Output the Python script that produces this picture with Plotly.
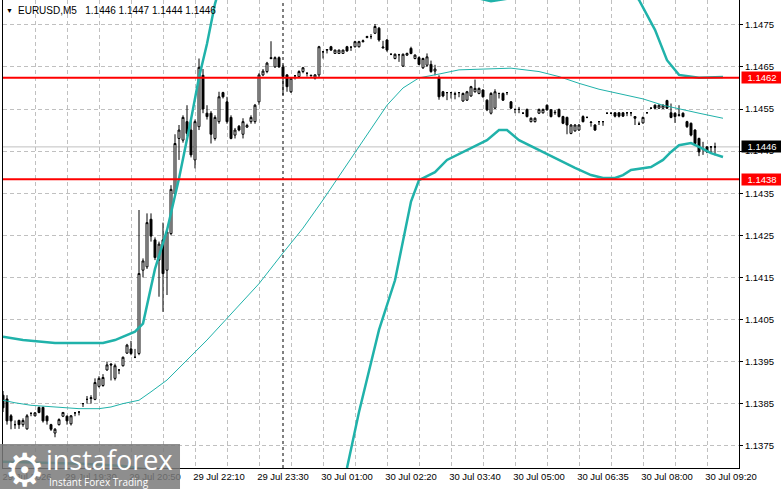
import plotly.graph_objects as go

# EURUSD M5 candles, one entry per bar (bar index = position on the chart)
opens = [
    1.13870, 1.13861, 1.13821, 1.13800, 1.13810, 1.13800, 1.13790, 1.13827, 1.13821, 1.13841,
    1.13841, 1.13820, 1.13800, 1.13780, 1.13800, 1.13820, 1.13820, 1.13802, 1.13828, 1.13830,
    1.13850, 1.13860, 1.13862, 1.13860, 1.13891, 1.13893, 1.13930, 1.13944, 1.13910, 1.13930,
    1.13940, 1.13970, 1.13980, 1.13960, 1.13969, 1.14167, 1.14175, 1.14288, 1.14239, 1.14191,
    1.14239, 1.14167, 1.14254, 1.14349, 1.14480, 1.14476, 1.14520, 1.14500, 1.14429, 1.14508,
    1.14630, 1.14540, 1.14540, 1.14480, 1.14520, 1.14589, 1.14567, 1.14530, 1.14488, 1.14509,
    1.14490, 1.14507, 1.14520, 1.14520, 1.14567, 1.14631, 1.14639, 1.14672, 1.14650, 1.14672,
    1.14650, 1.14631, 1.14591, 1.14629, 1.14627, 1.14639, 1.14635, 1.14629, 1.14623, 1.14631,
    1.14686, 1.14690, 1.14698, 1.14682, 1.14682, 1.14682, 1.14698, 1.14697, 1.14698, 1.14698,
    1.14710, 1.14720, 1.14722, 1.14730, 1.14742, 1.14695, 1.14714, 1.14680, 1.14670, 1.14679,
    1.14652, 1.14678, 1.14694, 1.14670, 1.14672, 1.14648, 1.14654, 1.14656, 1.14640, 1.14625,
    1.14591, 1.14589, 1.14589, 1.14585, 1.14589, 1.14569, 1.14571, 1.14581, 1.14591, 1.14587,
    1.14595, 1.14571, 1.14540, 1.14552, 1.14587, 1.14587, 1.14589, 1.14567, 1.14549, 1.14549,
    1.14540, 1.14549, 1.14520, 1.14520, 1.14540, 1.14541, 1.14559, 1.14548, 1.14541, 1.14549,
    1.14532, 1.14530, 1.14492, 1.14498, 1.14500, 1.14532, 1.14530, 1.14518, 1.14512, 1.14520,
    1.14520, 1.14540, 1.14540, 1.14541, 1.14541, 1.14541, 1.14541, 1.14541, 1.14532, 1.14514,
    1.14517, 1.14541, 1.14552, 1.14559, 1.14552, 1.14552, 1.14570, 1.14541, 1.14540, 1.14535,
    1.14540, 1.14520, 1.14516, 1.14500, 1.14480, 1.14455, 1.14460, 1.14460, 1.14460,
]
highs = [
    1.13880, 1.13870, 1.13825, 1.13810, 1.13812, 1.13815, 1.13825, 1.13828, 1.13830, 1.13843,
    1.13843, 1.13822, 1.13802, 1.13792, 1.13815, 1.13830, 1.13822, 1.13823, 1.13829, 1.13831,
    1.13851, 1.13868, 1.13870, 1.13910, 1.13915, 1.13920, 1.13950, 1.13946, 1.13945, 1.13931,
    1.13962, 1.13992, 1.13999, 1.13980, 1.14310, 1.14195, 1.14302, 1.14302, 1.14245, 1.14235,
    1.14280, 1.14262, 1.14369, 1.14490, 1.14512, 1.14535, 1.14559, 1.14525, 1.14525, 1.14670,
    1.14645, 1.14559, 1.14545, 1.14535, 1.14591, 1.14591, 1.14579, 1.14535, 1.14505, 1.14512,
    1.14528, 1.14515, 1.14535, 1.14562, 1.14635, 1.14645, 1.14662, 1.14711, 1.14675, 1.14675,
    1.14655, 1.14633, 1.14625, 1.14630, 1.14642, 1.14650, 1.14636, 1.14631, 1.14633, 1.14700,
    1.14688, 1.14692, 1.14700, 1.14691, 1.14691, 1.14691, 1.14700, 1.14698, 1.14712, 1.14712,
    1.14715, 1.14724, 1.14728, 1.14752, 1.14745, 1.14712, 1.14716, 1.14682, 1.14682, 1.14681,
    1.14682, 1.14684, 1.14698, 1.14680, 1.14675, 1.14672, 1.14682, 1.14665, 1.14655, 1.14630,
    1.14593, 1.14590, 1.14590, 1.14591, 1.14590, 1.14589, 1.14593, 1.14605, 1.14620, 1.14601,
    1.14597, 1.14573, 1.14590, 1.14597, 1.14588, 1.14589, 1.14590, 1.14569, 1.14550, 1.14555,
    1.14542, 1.14551, 1.14530, 1.14530, 1.14551, 1.14551, 1.14561, 1.14550, 1.14548, 1.14551,
    1.14534, 1.14532, 1.14514, 1.14514, 1.14514, 1.14535, 1.14532, 1.14520, 1.14514, 1.14521,
    1.14521, 1.14541, 1.14541, 1.14542, 1.14542, 1.14542, 1.14542, 1.14542, 1.14533, 1.14520,
    1.14532, 1.14542, 1.14553, 1.14561, 1.14561, 1.14561, 1.14572, 1.14563, 1.14542, 1.14559,
    1.14542, 1.14522, 1.14518, 1.14502, 1.14482, 1.14472, 1.14462, 1.14461, 1.14470,
]
lows = [
    1.13830, 1.13800, 1.13789, 1.13790, 1.13790, 1.13795, 1.13788, 1.13820, 1.13820, 1.13827,
    1.13805, 1.13800, 1.13785, 1.13770, 1.13798, 1.13818, 1.13800, 1.13798, 1.13820, 1.13822,
    1.13842, 1.13850, 1.13850, 1.13858, 1.13888, 1.13890, 1.13928, 1.13905, 1.13905, 1.13920,
    1.13938, 1.13968, 1.13965, 1.13958, 1.13965, 1.14150, 1.14170, 1.14235, 1.14191, 1.14104,
    1.14068, 1.14108, 1.14250, 1.14345, 1.14429, 1.14470, 1.14485, 1.14435, 1.14409, 1.14500,
    1.14540, 1.14525, 1.14468, 1.14475, 1.14515, 1.14575, 1.14515, 1.14478, 1.14480, 1.14497,
    1.14480, 1.14505, 1.14515, 1.14515, 1.14560, 1.14628, 1.14635, 1.14668, 1.14648, 1.14648,
    1.14583, 1.14591, 1.14588, 1.14620, 1.14625, 1.14635, 1.14627, 1.14627, 1.14620, 1.14625,
    1.14670, 1.14682, 1.14688, 1.14681, 1.14681, 1.14681, 1.14686, 1.14688, 1.14696, 1.14696,
    1.14708, 1.14718, 1.14716, 1.14728, 1.14710, 1.14694, 1.14686, 1.14678, 1.14668, 1.14662,
    1.14650, 1.14676, 1.14680, 1.14668, 1.14654, 1.14645, 1.14650, 1.14636, 1.14630, 1.14572,
    1.14578, 1.14571, 1.14575, 1.14573, 1.14578, 1.14567, 1.14569, 1.14579, 1.14589, 1.14585,
    1.14577, 1.14545, 1.14537, 1.14550, 1.14575, 1.14569, 1.14583, 1.14550, 1.14540, 1.14540,
    1.14538, 1.14530, 1.14518, 1.14518, 1.14538, 1.14539, 1.14546, 1.14530, 1.14536, 1.14530,
    1.14514, 1.14490, 1.14490, 1.14496, 1.14498, 1.14518, 1.14528, 1.14508, 1.14498, 1.14512,
    1.14510, 1.14538, 1.14538, 1.14530, 1.14530, 1.14531, 1.14533, 1.14533, 1.14512, 1.14512,
    1.14515, 1.14540, 1.14550, 1.14550, 1.14550, 1.14550, 1.14550, 1.14528, 1.14517, 1.14532,
    1.14530, 1.14505, 1.14485, 1.14465, 1.14438, 1.14441, 1.14445, 1.14445, 1.14440,
]
closes = [
    1.13840, 1.13809, 1.13809, 1.13800, 1.13800, 1.13810, 1.13821, 1.13827, 1.13828, 1.13829,
    1.13809, 1.13809, 1.13789, 1.13789, 1.13812, 1.13829, 1.13809, 1.13821, 1.13828, 1.13830,
    1.13850, 1.13860, 1.13864, 1.13900, 1.13910, 1.13912, 1.13942, 1.13942, 1.13940, 1.13930,
    1.13960, 1.13989, 1.13969, 1.13960, 1.14159, 1.14189, 1.14280, 1.14248, 1.14197, 1.14229,
    1.14159, 1.14258, 1.14359, 1.14468, 1.14500, 1.14530, 1.14492, 1.14441, 1.14520, 1.14649,
    1.14550, 1.14532, 1.14490, 1.14530, 1.14579, 1.14579, 1.14520, 1.14480, 1.14500, 1.14500,
    1.14520, 1.14511, 1.14530, 1.14559, 1.14631, 1.14640, 1.14659, 1.14670, 1.14672, 1.14650,
    1.14627, 1.14603, 1.14623, 1.14629, 1.14639, 1.14648, 1.14635, 1.14630, 1.14631, 1.14698,
    1.14686, 1.14691, 1.14690, 1.14690, 1.14690, 1.14690, 1.14688, 1.14697, 1.14710, 1.14710,
    1.14712, 1.14722, 1.14722, 1.14746, 1.14714, 1.14697, 1.14690, 1.14680, 1.14680, 1.14679,
    1.14680, 1.14682, 1.14682, 1.14678, 1.14656, 1.14670, 1.14674, 1.14639, 1.14645, 1.14579,
    1.14581, 1.14589, 1.14589, 1.14586, 1.14589, 1.14587, 1.14591, 1.14603, 1.14599, 1.14599,
    1.14579, 1.14548, 1.14587, 1.14591, 1.14587, 1.14571, 1.14589, 1.14552, 1.14549, 1.14549,
    1.14540, 1.14532, 1.14528, 1.14528, 1.14549, 1.14549, 1.14548, 1.14532, 1.14542, 1.14532,
    1.14516, 1.14512, 1.14512, 1.14512, 1.14512, 1.14520, 1.14530, 1.14519, 1.14500, 1.14520,
    1.14520, 1.14540, 1.14540, 1.14533, 1.14533, 1.14533, 1.14541, 1.14541, 1.14528, 1.14514,
    1.14530, 1.14541, 1.14552, 1.14552, 1.14559, 1.14559, 1.14552, 1.14530, 1.14532, 1.14536,
    1.14532, 1.14508, 1.14488, 1.14468, 1.14448, 1.14455, 1.14448, 1.14460, 1.14460,
]
bars = list(range(len(closes)))

# Bollinger bands and middle line at these bar indices
upper_idx = [0, 5, 13, 25, 28, 30, 33, 35, 36, 38, 41, 44, 47, 49, 51, 53, 56, 62, 72, 85,
             100, 112, 118, 122, 126, 135, 148, 155, 159, 163, 166, 169, 174, 180]
upper_val = [1.14009, 1.14001, 1.13994, 1.13994, 1.14001, 1.14009, 1.14021, 1.14040, 1.14085,
             1.14170, 1.14262, 1.14385, 1.14525, 1.14625, 1.14705, 1.14800, 1.14900, 1.15000,
             1.15030, 1.14980, 1.14900, 1.14840, 1.14815, 1.14806, 1.14812, 1.14860, 1.14880,
             1.14850, 1.14809, 1.14738, 1.14666, 1.14631, 1.14624, 1.14626]

mid_idx = [0, 3, 7, 13, 19, 24, 27, 30, 34, 37, 41, 51, 64, 70, 75, 80, 85, 90, 96, 100,
           104, 109, 114, 127, 134, 139, 144, 149, 154, 160, 165, 170, 174, 180]
mid_val = [1.13858, 1.13852, 1.13846, 1.13842, 1.13838, 1.13838, 1.13842, 1.13850, 1.13858,
           1.13878, 1.13906, 1.14001, 1.14135, 1.14208, 1.14267, 1.14334, 1.14405, 1.14476,
           1.14559, 1.14600, 1.14624, 1.14633, 1.14643, 1.14647, 1.14639, 1.14627, 1.14611,
           1.14597, 1.14586, 1.14574, 1.14559, 1.14548, 1.14540, 1.14528]

lower_idx = [0, 10, 20, 30, 35, 38, 42, 50, 60, 70, 78, 83, 86, 89, 91, 94, 98, 100, 102,
             104, 108, 111, 116, 121, 124, 126, 129, 134, 138, 143, 147, 150, 153, 155, 157,
             162, 165, 167, 169, 172, 174, 177, 180]
lower_val = [1.13712, 1.13710, 1.13707, 1.13702, 1.13695, 1.13640, 1.13520, 1.13350, 1.13250,
             1.13240, 1.13400, 1.13580, 1.13697, 1.13830, 1.13906, 1.14025, 1.14143, 1.14240,
             1.14330, 1.14381, 1.14400, 1.14429, 1.14452, 1.14476, 1.14500, 1.14500, 1.14476,
             1.14452, 1.14433, 1.14410, 1.14393, 1.14386, 1.14386, 1.14393, 1.14405, 1.14412,
             1.14429, 1.14448, 1.14464, 1.14469, 1.14460, 1.14445, 1.14436]

# horizontal levels
resistance = 1.14624
support = 1.14383
bid = 1.14460

# axis labels
time_idx = [0, 16, 32, 48, 64, 80, 96, 112, 128, 144, 160, 176]
time_text = ["29 Jul 2026", "29 Jul 19:30", "29 Jul 20:50", "29 Jul 22:10", "29 Jul 23:30",
             "30 Jul 01:00", "30 Jul 02:20", "30 Jul 03:40", "30 Jul 05:00", "30 Jul 06:35",
             "30 Jul 08:00", "30 Jul 09:20"]
day_break = 70
price_ticks = [1.1375, 1.1385, 1.1395, 1.1405, 1.1415, 1.1425, 1.1435, 1.1445, 1.1455,
               1.1465, 1.1475]

TEAL = "#20b2aa"
FONT = "Liberation Sans"

fig = go.Figure()

fig.add_trace(go.Candlestick(
    x=bars, open=opens, high=highs, low=lows, close=closes,
    increasing=dict(line=dict(color="black", width=1), fillcolor="white"),
    decreasing=dict(line=dict(color="black", width=1), fillcolor="black"),
    whiskerwidth=0, hoverinfo="skip", showlegend=False,
))
fig.add_trace(go.Scatter(x=mid_idx, y=mid_val, mode="lines",
                         line=dict(color=TEAL, width=1), hoverinfo="skip", showlegend=False))
fig.add_trace(go.Scatter(x=upper_idx, y=upper_val, mode="lines",
                         line=dict(color=TEAL, width=2.5), hoverinfo="skip", showlegend=False))
fig.add_trace(go.Scatter(x=lower_idx, y=lower_val, mode="lines",
                         line=dict(color=TEAL, width=2.5), hoverinfo="skip", showlegend=False))

# grid every 8 bars, a date label every 16
grid_idx = list(range(0, 184, 8))
grid_text = [time_text[time_idx.index(g)] if g in time_idx else "" for g in grid_idx]

fig.update_layout(
    width=781, height=489,
    margin=dict(l=3, r=42, t=0, b=21),
    paper_bgcolor="white", plot_bgcolor="white",
    font=dict(family=FONT, size=9.5, color="black"),
    showlegend=False,
    xaxis=dict(
        range=[0, 184], rangeslider=dict(visible=False),
        tickmode="array", tickvals=grid_idx, ticktext=grid_text,
        ticklabelshift=24, ticks="",
        showgrid=True, gridcolor="#c0c0c0", griddash="4px,3px", gridwidth=1,
        showline=True, linecolor="black", linewidth=1, zeroline=False,
        tickfont=dict(family=FONT, size=9.5, color="black"),
    ),
    yaxis=dict(
        range=[1.13697, 1.14809], side="right",
        tickmode="array", tickvals=price_ticks,
        ticktext=["%.4f" % p for p in price_ticks],
        ticks="outside", ticklen=3, tickcolor="black",
        showgrid=True, gridcolor="#c0c0c0", griddash="4px,3px", gridwidth=1,
        showline=True, linecolor="black", linewidth=1, mirror=True, zeroline=False,
        tickfont=dict(family=FONT, size=9.5, color="black"),
    ),
)

shapes = [
    dict(type="line", xref="paper", x0=0, x1=1, yref="y", y0=bid, y1=bid,
         line=dict(color="#c0c0c0", width=1), layer="below"),
    dict(type="line", xref="x", x0=day_break, x1=day_break, yref="paper", y0=0, y1=1,
         line=dict(color="black", width=1, dash="3px,3px")),
    dict(type="line", xref="paper", x0=0, x1=1, yref="y", y0=resistance, y1=resistance,
         line=dict(color="#ff0000", width=2)),
    dict(type="line", xref="paper", x0=0, x1=1, yref="y", y0=support, y1=support,
         line=dict(color="#ff0000", width=2)),
    # watermark box
    dict(type="rect", xref="paper", yref="paper", x0=-0.0041, x1=0.2405, y0=-0.0449, y1=0.0513,
         fillcolor="rgba(122,122,122,0.85)", line=dict(width=0), layer="above"),
]
fig.update_layout(shapes=shapes)

ann = [
    dict(text="▼", xref="paper", yref="paper", x=0, y=1, xanchor="center", yanchor="middle",
         xshift=6, yshift=-10, showarrow=False, font=dict(size=7, color="black")),
    dict(text="EURUSD,M5\u00a0\u00a0 1.1446 1.1447 1.1444 1.1446", xref="paper", yref="paper",
         x=0, y=1, xanchor="left", yanchor="middle", xshift=13, yshift=-10, showarrow=False,
         font=dict(family=FONT, size=10, color="black")),
]
for level, colour, label in [(resistance, "#ff0000", "1.1462"), (bid, "black", "1.1446"),
                             (support, "#ff0000", "1.1438")]:
    ann.append(dict(text=label, xref="paper", x=1, xanchor="left", xshift=2, yref="y", y=level,
                    yanchor="middle", showarrow=False, bgcolor=colour, width=40, height=11,
                    borderpad=0, font=dict(family=FONT, size=9.5, color="white")))

ann += [
    dict(text="⚙", xref="paper", yref="paper", x=0, y=0, xanchor="center", yanchor="middle",
         xshift=21, yshift=-2, showarrow=False,
         font=dict(family="DejaVu Sans", size=46, color="white")),
    dict(text="instaforex", xref="paper", yref="paper", x=0, y=0, xanchor="left",
         yanchor="middle", xshift=41, yshift=9, showarrow=False,
         font=dict(family="Open Sans", size=27, color="white")),
    dict(text="Instant Forex Trading", xref="paper", yref="paper", x=0, y=0, xanchor="left",
         yanchor="middle", xshift=44, yshift=-14, showarrow=False,
         font=dict(family="Open Sans", size=10, color="white")),
]
fig.update_layout(annotations=ann)

# the page's default body margin would push the chart off the window
fig.write_html("out.html", config={"displayModeBar": False},
               post_script="document.body.style.margin='0';")
